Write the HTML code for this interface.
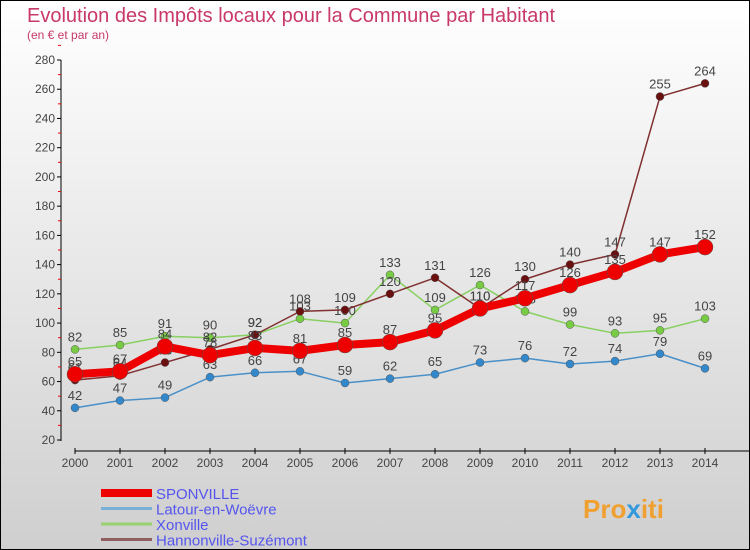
<!DOCTYPE html>
<html><head><meta charset="utf-8"><style>
body{margin:0}
#c{width:748px;height:548px;border:1px solid #000;position:relative;background:linear-gradient(#ffffff,#cfcfcf);font-family:"Liberation Sans",sans-serif;overflow:hidden}
</style></head><body>
<div id="c">
<svg width="748" height="548" id="s">
<text x="26" y="21" font-size="20" fill="#c8386a">Evolution des Impôts locaux pour la Commune par Habitant</text>
<text x="26" y="38" font-size="12" fill="#c8386a">(en € et par an)</text>
<g id="axes"></g><g id="series"></g><g id="legend"></g>
<text x="582" y="517" font-size="26" font-weight="bold" fill="#f0a030">Pro<tspan fill="#3399dd">x</tspan>iti</text>
</svg></div>
<script>
const years=[2000,2001,2002,2003,2004,2005,2006,2007,2008,2009,2010,2011,2012,2013,2014];
const sponville=[65,67,84,78,83,81,85,87,95,110,117,126,135,147,152];
const latour=[42,47,49,63,66,67,59,62,65,73,76,72,74,79,69];
const xonville=[82,85,91,90,92,103,100,133,109,126,108,99,93,95,103];
const hannonville=[61,64,73,82,92,108,109,120,131,110,130,140,147,255,264];
const yTicks=[20,40,60,80,100,120,140,160,180,200,220,260,240,280];
const names=["SPONVILLE","Latour-en-Woëvre","Xonville","Hannonville-Suzémont"];
const NS="http://www.w3.org/2000/svg";
const X=i=>74+i*45, Y=v=>439-(v-20)*380/260;
function mk(t,a,p){const e=document.createElementNS(NS,t);for(const k in a)e.setAttribute(k,a[k]);p.appendChild(e);return e;}
const ax=document.getElementById('axes');
let l=mk('line',{x1:60,y1:59,x2:60,y2:440,stroke:'#000'},ax);


yTicks.forEach(v=>{mk('line',{x1:56,x2:60,y1:Y(v),y2:Y(v),stroke:'#000'},ax);
 mk('line',{x1:57,x2:60,y1:Y(v+10),y2:Y(v+10),stroke:'#e00'},ax);
 const t=mk('text',{x:54,y:Y(v)+4,'text-anchor':'end','font-size':12,fill:'#444'},ax);t.textContent=v;
 
 });
l=mk('line',{x1:74,y1:450,x2:748,y2:450,stroke:'#000'},ax);


years.forEach((y,i)=>{mk('line',{x1:X(i),x2:X(i),y1:447,y2:453,stroke:'#000'},ax);
 const t=mk('text',{x:X(i),y:466,'text-anchor':'middle','font-size':12,fill:'#444'},ax);t.textContent=y;
 
 });
const sg=document.getElementById('series');
const defs=[[latour,'#4a90c8','#3388cc',1.5,4,'latour'],[xonville,'#88d060','#77cc44',1.5,4,'xonville'],[hannonville,'#803030','#6a1010',1.5,4,'hannonville'],[sponville,'#ee0000','#ee0000',8,8,'sponville']];
defs.forEach(([d,c,f,w,r,n])=>{
 const p=mk('polyline',{points:d.map((v,i)=>X(i)+','+Y(v)).join(' '),fill:'none',stroke:c,'stroke-width':w,'stroke-linejoin':'round'},sg);
 
 
 d.forEach((v,i)=>{const q=mk('circle',{cx:X(i),cy:Y(v),r:r,fill:f,stroke:'#555','stroke-width':0.5},sg);
  
  
  const t=mk('text',{x:X(i),y:Y(v)-8,'text-anchor':'middle','font-size':13,fill:'#444'},sg);t.textContent=v;
  
  });
});
const lg=document.getElementById('legend');
const lc=['#ee0000','#7ab0d8','#99d070','#906060'],lw=[8,3,3,3];
names.forEach((n,i)=>{const y=492+i*15.5;
 const a=mk('line',{x1:100,x2:151,y1:y,y2:y,stroke:lc[i],'stroke-width':lw[i]},lg);
 
 
 const t=mk('text',{x:155,y:y+6,'font-size':15,fill:'#5555ee'},lg);t.textContent=n;
 
 });
</script>
</body></html>
